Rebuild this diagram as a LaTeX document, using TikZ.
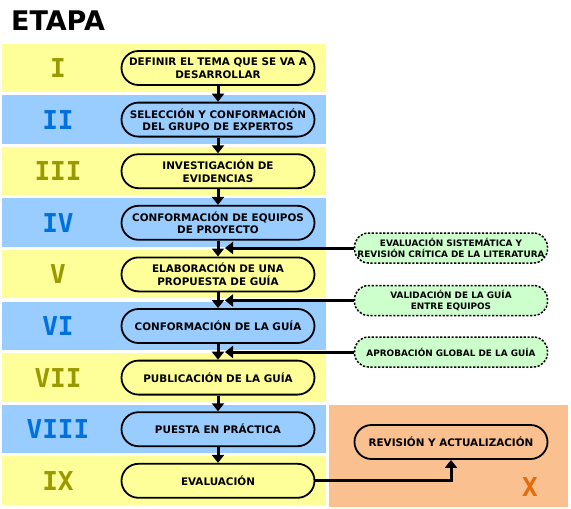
\documentclass[tikz,border=0pt]{standalone}
\usepackage{fontspec}
\setmainfont{DejaVu Sans}
\newfontfamily\numfont{DejaVu Sans Mono}
\usepackage{xcolor}
\usetikzlibrary{positioning,shapes,arrows.meta}

\definecolor{bandyellow}{HTML}{FFFF99}
\definecolor{bandblue}{HTML}{99CCFF}
\definecolor{numolive}{HTML}{999900}
\definecolor{numblue}{HTML}{0070DD}
\definecolor{bandorange}{HTML}{FAC08F}
\definecolor{numorange}{HTML}{E46C0A}
\definecolor{notegreen}{HTML}{CCFFCC}

\begin{document}
\begin{tikzpicture}
            [x=1pt,y=-1pt,
             stage/.style={draw, line width=1.8pt, rounded corners=17pt, minimum width=193pt, minimum height=34pt, inner sep=1pt, align=center, font=\bfseries\fontsize{10.4}{12.5}\selectfont},
             note/.style={draw, line width=1.5pt, dash pattern=on 2.2pt off 1.6pt, fill=notegreen, rounded corners=14pt, minimum width=193pt, minimum height=30pt, inner sep=1pt, align=center, font=\bfseries\fontsize{8.9}{10.5}\selectfont},
             numeral/.style={font=\numfont\bfseries\fontsize{26}{26}\selectfont},
             flow/.style={line width=3pt, -{Triangle[width=12pt,length=8pt]}}]
            \useasboundingbox (0,0) rectangle (571,509);
            \node[font=\bfseries\fontsize{27}{27}\selectfont] (title) at (58,21) {ETAPA};
            
            % bands with stage numbers
            \foreach \i/\num/\bg/\fg in {0/I/bandyellow/numolive, 1/II/bandblue/numblue, 2/III/bandyellow/numolive, 3/IV/bandblue/numblue, 4/V/bandyellow/numolive, 5/VI/bandblue/numblue, 6/VII/bandyellow/numolive, 7/VIII/bandblue/numblue, 8/IX/bandyellow/numolive}
            {
              \fill[\bg] (2,43.5+51.6*\i) rectangle (326,92+51.6*\i);
              \node[numeral, text=\fg] (n\i) at (58,68+51.6*\i) {\num};
            }
            \fill[bandorange] (329,405) rectangle (568,507);
            \node[numeral, text=numorange] (n9) at (530,487) {X};
            
            \node[stage, fill=bandyellow] (p1) at (218,68) {DEFINIR EL TEMA QUE SE VA A\\DESARROLLAR};
            \node[stage, fill=bandblue] (p2) at (218,119.6) {SELECCIÓN Y CONFORMACIÓN\\DEL GRUPO DE EXPERTOS};
            \node[stage, fill=bandyellow] (p3) at (218,171.2) {INVESTIGACIÓN DE\\EVIDENCIAS};
            \node[stage, fill=bandblue] (p4) at (218,222.8) {CONFORMACIÓN DE EQUIPOS\\DE PROYECTO};
            \node[stage, fill=bandyellow] (p5) at (218,274.4) {ELABORACIÓN DE UNA\\PROPUESTA DE GUÍA};
            \node[stage, fill=bandblue] (p6) at (218,326) {CONFORMACIÓN DE LA GUÍA};
            \node[stage, fill=bandyellow] (p7) at (218,377.6) {PUBLICACIÓN DE LA GUÍA};
            \node[stage, fill=bandblue] (p8) at (218,429.2) {PUESTA EN PRÁCTICA};
            \node[stage, fill=bandyellow] (p9) at (218,480.8) {EVALUACIÓN};
            \node[stage, fill=bandorange] (r) at (451,442) {REVISIÓN Y ACTUALIZACIÓN};
            
            \node[note] (s1) at (451,248) {EVALUACIÓN SISTEMÁTICA Y\\REVISIÓN CRÍTICA DE LA LITERATURA};
            \node[note] (s2) at (451,300.5) {VALIDACIÓN DE LA GUÍA\\ENTRE EQUIPOS};
            \node[note] (s3) at (451,352) {APROBACIÓN GLOBAL DE LA GUÍA};
            \coordinate (c1) at (225,248);
            \coordinate (c2) at (225,300.5);
            \coordinate (c3) at (225,352);
            
            \foreach \from/\to in {p1/p2, p2/p3, p3/p4, p4/p5, p5/p6, p6/p7, p7/p8, p8/p9}
            \draw[flow] (\from) -- (\to);
            \foreach \from/\to in {s1/c1, s2/c2, s3/c3}
            \draw[flow] (\from.west) -- (\to);
            \draw[flow] (p9.east) -| (r.south);
          \end{tikzpicture}
\end{document}
